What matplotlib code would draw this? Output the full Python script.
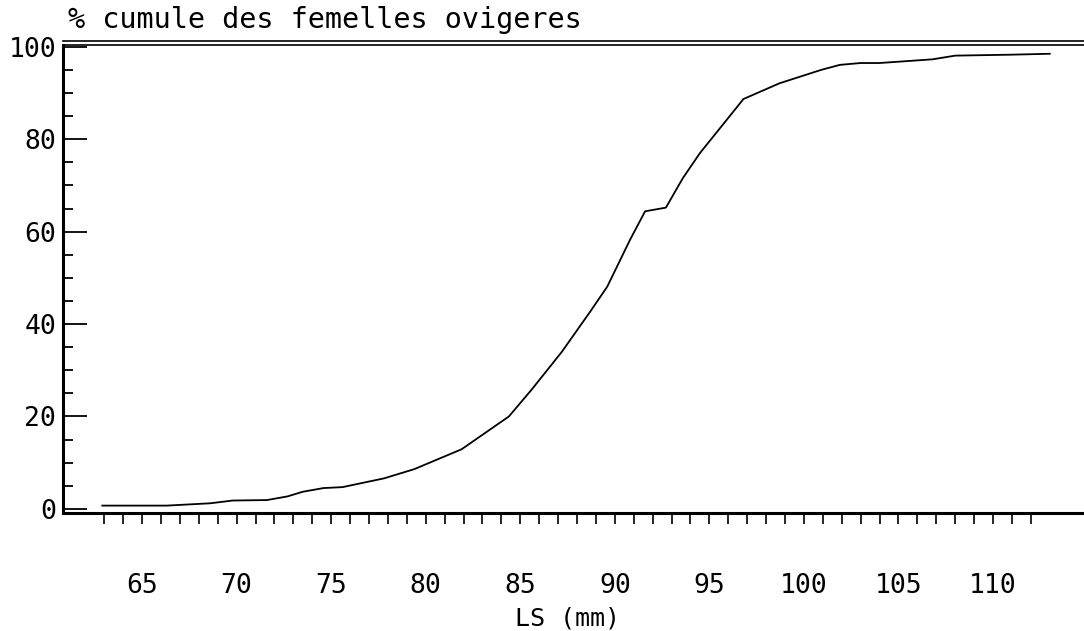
# _*_coding: utf-8_*_

import matplotlib
matplotlib.use('Agg')
import matplotlib.pyplot as plt
from matplotlib.ticker import MultipleLocator, FixedLocator
import numpy as np

# LS (mm) and cumulative % of ovigerous females
ls_mm = [62.9, 66.3, 68.6, 69.8, 71.6, 72.7, 73.5, 74.6, 75.6, 77.8, 79.4,
         81.9, 84.4, 85.6, 87.2, 88.7, 89.6, 90.8, 91.6, 92.7, 93.6, 94.5,
         95.7, 96.8, 98.7, 100.9, 101.9, 103.0, 104.0, 106.8, 108.0, 110.9,
         113.0]
pct_cum = [0.7, 0.7, 1.2, 1.8, 1.9, 2.7, 3.7, 4.5, 4.7, 6.6, 8.6,
           12.9, 20.0, 25.8, 34.0, 42.7, 48.1, 58.2, 64.4, 65.2, 71.6, 77.0,
           83.1, 88.7, 92.1, 95.0, 96.1, 96.5, 96.5, 97.3, 98.1, 98.3,
           98.5]

x_major = [65, 70, 75, 80, 85, 90, 95, 100, 105, 110]
x_minor = np.arange(63, 113)
y_major = [0, 20, 40, 60, 80, 100]

plt.rcParams['font.family'] = 'DejaVu Sans Mono'

fig = plt.figure(figsize=(10.84, 6.31), dpi=100)
ax = fig.add_axes([63 / 1084, 118 / 631, 1021 / 1084, 468 / 631])

ax.plot(ls_mm, pct_cum, color='black', linewidth=1.3)

ax.set_xlim(60.82, 114.81)
ax.set_ylim(-0.9, 100.4)

ax.xaxis.set_major_locator(FixedLocator(x_major))
ax.xaxis.set_minor_locator(FixedLocator(x_minor))
ax.yaxis.set_major_locator(FixedLocator(y_major))
ax.yaxis.set_minor_locator(MultipleLocator(5))

ax.tick_params(axis='x', which='both', direction='out', length=8, width=1.2,
               color='black')
ax.tick_params(axis='x', which='major', pad=35, labelsize=19)
ax.tick_params(axis='y', which='major', direction='in', length=17, width=1.3,
               pad=5, labelsize=19)
ax.tick_params(axis='y', which='minor', direction='in', length=7, width=1.3)

ax.spines['right'].set_visible(False)
ax.spines['left'].set_linewidth(2.2)
ax.spines['bottom'].set_linewidth(2.2)
ax.spines['top'].set_linewidth(1.2)
# double rule at the top of the frame
ax.plot([0, 1], [1.008, 1.008], transform=ax.transAxes, color='black',
        linewidth=1.2, clip_on=False)

ax.set_xlabel('LS (mm)', fontsize=18)
ax.xaxis.set_label_coords(0.494, -0.225)
ax.xaxis.label.set_va('center')

fig.text(68 / 1084, 1 - 20 / 631, '% cumule des femelles ovigeres',
         fontsize=20.5, va='center', ha='left')

fig.savefig('out.png', dpi=100)
